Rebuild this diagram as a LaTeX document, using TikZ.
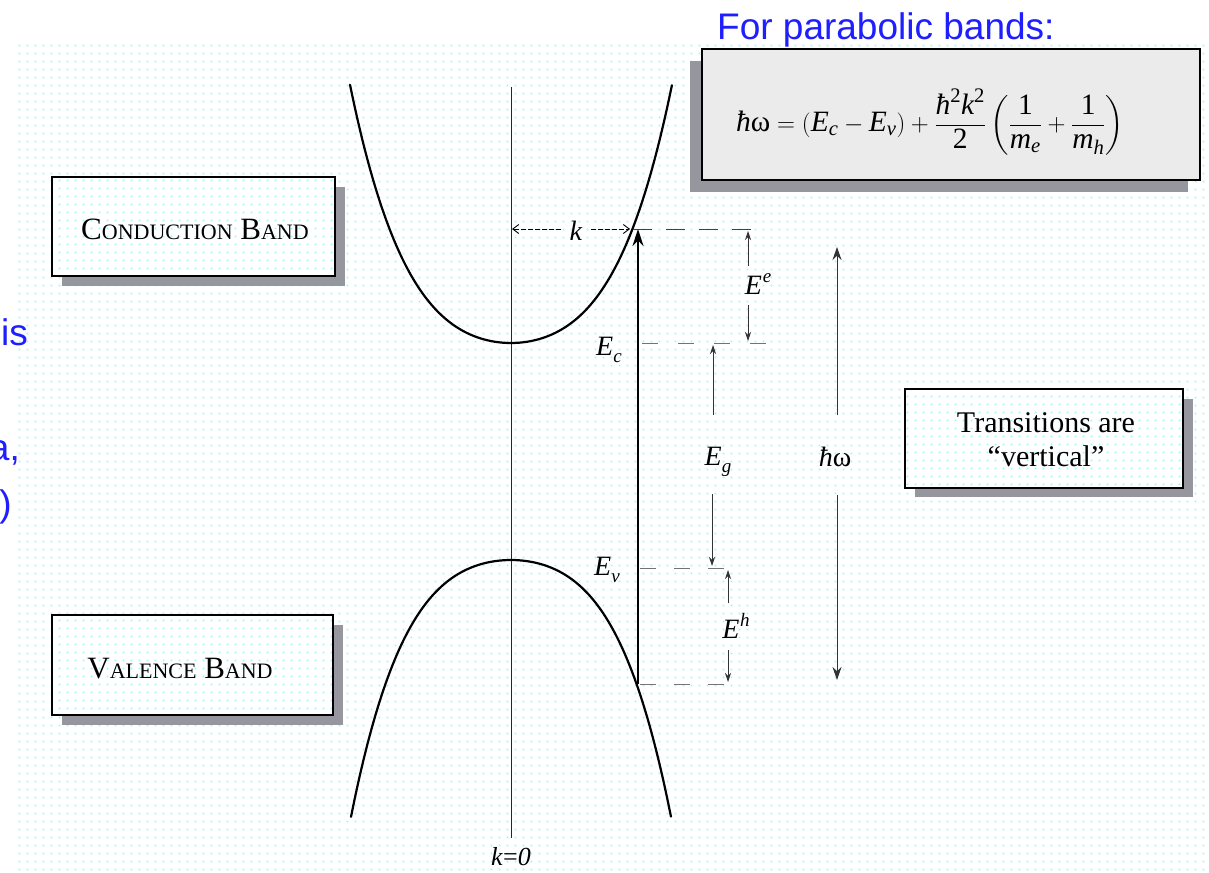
\documentclass[tikz,border=0pt]{standalone}
\usepackage{fontspec}
\usepackage{amsmath}
\setmainfont{Liberation Serif}
\newfontfamily\arialfont{Liberation Sans}
\usetikzlibrary{arrows.meta,patterns}
\definecolor{dotcyan}{RGB}{150,250,250}
\definecolor{slideblue}{RGB}{30,30,255}
\definecolor{shadowgray}{RGB}{150,150,158}
\pgfdeclarepatternformonly{cydots}{\pgfqpoint{0pt}{0pt}}{\pgfqpoint{8pt}{8pt}}{\pgfqpoint{8pt}{8pt}}{\pgfpathrectangle{\pgfqpoint{3pt}{3pt}}{\pgfqpoint{1.8pt}{1.8pt}}\pgfusepath{fill}}
\newcommand\Esb[1]{\textit{E}\kern0.01em\raisebox{-0.25em}{\fontsize{19}{19}\selectfont\textit{#1}}}
\newcommand\Esp[1]{\textit{E}\kern0.03em\raisebox{0.42em}{\fontsize{19}{19}\selectfont\textit{#1}}}
\begin{document}
\begin{tikzpicture}[x=1pt,y=-1pt,
  shadowbox/.style={fill=shadowgray},
  bandbox/.style={draw=black, line width=1.4pt, preaction={fill=white}, pattern=cydots, pattern color=dotcyan, inner sep=0pt},
  formbox/.style={draw=black, line width=1.8pt, fill=gray!16, inner sep=0pt},
  boxtext/.style={font=\fontsize{31}{36}\selectfont, inner sep=0pt},
  mlab/.style={font=\fontsize{28}{32}\selectfont, inner sep=0pt},
  bluetext/.style={font=\arialfont\fontsize{37}{44}\selectfont, text=slideblue, inner sep=0pt},
  band/.style={line width=2.2pt, line cap=round},
  axisline/.style={line width=0.9pt, draw=black!85},
  smallarr/.style={-{Stealth[length=9pt,width=6pt]}, line width=0.8pt, draw=black!80},
  bigarr/.style={-{Stealth[length=17pt,width=11pt]}, line width=1.6pt},
  omarr/.style={-{Stealth[length=13pt,width=9pt]}, line width=0.9pt, draw=black!80},
  karr/.style={-{Straight Barb[length=6pt,width=9pt]}, line width=0.9pt, dash pattern=on 5pt off 2pt},
  dashlev/.style={line width=0.9pt, draw=black!75, dash pattern=on 19pt off 14pt}
]
\useasboundingbox (0,0) rectangle (1209,872);
\clip (0,0) rectangle (1209,872);
\fill[white] (0,0) rectangle (1209,872);
\fill[pattern=cydots, pattern color=dotcyan] (16,45) rectangle (1209,872);

% clipped blue text on the left
\node[bluetext, anchor=base east] (t1) at (28,345) {is};
\node[bluetext, anchor=base east] (t2) at (20,460) {a,};
\node[bluetext, anchor=base east] (t3) at (12,516) {)};

% title
\node[bluetext, anchor=base west] (title) at (717,40) {For parabolic bands:};

% shadows
\fill[shadowbox] (690,61) rectangle (1188,192);
\fill[shadowbox] (62,187) rectangle (345,286);
\fill[shadowbox] (62,625) rectangle (343,725);
\fill[shadowbox] (915,399) rectangle (1193,497);

% formula box
\node[formbox, minimum width=498pt, minimum height=131pt] (fbox) at (951,114.5) {};
\node[inner sep=0pt, font=\fontsize{29.5}{34}\selectfont] (formula) at (930,122)
  {$\textit{ħ}\text{ω} = (\textit{E}_{\textit{c}} - \textit{E}_{\textit{v}}) + \dfrac{\textit{ħ}^{\text{2}}\textit{k}^{\text{2}}}{\text{2}}\left(\dfrac{\text{1}}{\textit{m}_{\textit{e}}}+\dfrac{\text{1}}{\textit{m}_{\textit{h}}}\right)$};

% band boxes
\node[bandbox, minimum width=283pt, minimum height=99pt] (cbox) at (193.5,226.5) {};
\node[boxtext] (ctext) at (195,229) {C{\fontsize{22}{26}\selectfont ONDUCTION} B{\fontsize{22}{26}\selectfont AND}};
\node[bandbox, minimum width=281pt, minimum height=100pt] (vbox) at (192.5,665) {};
\node[boxtext] (vtext) at (180,669) {V{\fontsize{22}{26}\selectfont ALENCE} B{\fontsize{22}{26}\selectfont AND}};
\node[bandbox, minimum width=278pt, minimum height=99pt] (tbox) at (1044,438.5) {};
\node[boxtext, font=\fontsize{30}{34}\selectfont, align=center] (ttext) at (1046,440) {Transitions are\\``vertical''};

% k = 0 axis
\coordinate (axtop) at (511,87);
\coordinate (axbot) at (511,838);
\draw[axisline] (axtop) -- (axbot);
\node[mlab, font=\fontsize{26}{30}\selectfont] (k0) at (511,857) {\textit{k}=\textit{0}};

% conduction band
\draw[band] plot[domain=-1.61:1.61, samples=81, smooth, variable=\u] ({511+100*\u}, {343 - 47.8*\u*\u - 20*\u*\u*\u*\u});
% valence band
\draw[band] plot[domain=-1.6:1.6, samples=81, smooth, variable=\u] ({511+100*\u}, {560 + 44*\u*\u + 22*\u*\u*\u*\u});

% level dashed lines
\coordinate (kc) at (633,229);
\coordinate (ke) at (760,229);
\coordinate (ecs) at (642,343);
\coordinate (ece) at (766,343);
\coordinate (evs) at (640,568);
\coordinate (eve) at (733,568);
\coordinate (hs) at (640,684);
\coordinate (he) at (730,684);
\draw[dashlev] (kc) -- (ke);
\draw[dashlev, dash pattern=on 16pt off 20pt, draw=black!55] (ecs) -- (ece);
\draw[dashlev, dash pattern=on 16pt off 18pt, draw=black!55] (evs) -- (eve);
\draw[dashlev, dash pattern=on 16pt off 18pt, draw=black!55] (hs) -- (he);

% k arrow
\node[mlab] (klab) at (576,231) {\textit{k}};
\coordinate (kl) at (512,229);
\coordinate (kr) at (630,229);
\draw[karr] (klab.west) ++(-8,-2) -- (kl);
\draw[karr] (klab.east) ++(8,-2) -- (kr);

% vertical transition
\coordinate (trbot) at (638,684);
\coordinate (trtop) at (638,229);
\draw[bigarr] (trbot) -- (trtop);

% level labels
\node[mlab] (ec) at (609,350) {\Esb{c}};
\node[mlab] (ev) at (607,570) {\Esb{v}};

% E^e
\node[mlab] (ee) at (758,284) {\Esp{e}};
\coordinate (ee1) at (748,266);
\coordinate (ee2) at (748,231);
\coordinate (ee3) at (748,305);
\coordinate (ee4) at (748,341);
\draw[smallarr] (ee1) -- (ee2);
\draw[smallarr] (ee3) -- (ee4);

% E_g
\node[mlab] (eg) at (718,462) {\Esb{g}};
\coordinate (eg1) at (713,415);
\coordinate (eg2) at (713,345);
\coordinate (eg3) at (712,494);
\coordinate (eg4) at (712,566);
\draw[smallarr] (eg1) -- (eg2);
\draw[smallarr] (eg3) -- (eg4);

% E^h
\node[mlab] (eh) at (736,626) {\Esp{h}};
\coordinate (eh1) at (728,603);
\coordinate (eh2) at (728,570);
\coordinate (eh3) at (728,650);
\coordinate (eh4) at (728,682);
\draw[smallarr] (eh1) -- (eh2);
\draw[smallarr] (eh3) -- (eh4);

% hbar omega
\node[mlab] (hw) at (835,457) {\textit{ħ}ω};
\coordinate (hw1) at (837,415);
\coordinate (hw2) at (837,247);
\coordinate (hw3) at (837,495);
\coordinate (hw4) at (837,680);
\draw[omarr] (hw1) -- (hw2);
\draw[omarr] (hw3) -- (hw4);
\end{tikzpicture}
\end{document}
